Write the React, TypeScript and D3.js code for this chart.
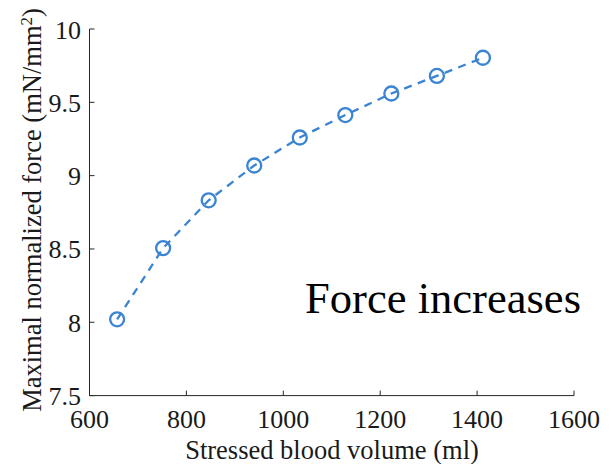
import React from "react";
import * as d3 from "d3";

const volume = [657, 752, 846, 940, 1034, 1128, 1223, 1317, 1412];
const force = [8.02, 8.506, 8.832, 9.069, 9.26, 9.413, 9.56, 9.68, 9.804];
const xTicks = [600, 800, 1000, 1200, 1400, 1600];
const yTicks = [7.5, 8, 8.5, 9, 9.5, 10];
const yTickLabels = ["7.5", "8", "8.5", "9", "9.5", "10"];

const W = 611, H = 464;
const serif = "'Liberation Serif', 'Times New Roman', serif";
const blue = "#3a84d2";
const axisColor = "#262626";

export default function App() {
  const x = d3.scaleLinear().domain([600, 1600]).range([89.5, 574]);
  const y = d3.scaleLinear().domain([7.5, 10]).range([395.6, 29]);
  const line = d3.line<number>().x((_, i) => x(volume[i])).y((d) => y(d));
  return (
    <svg width={W} height={H} style={{ position: "absolute", left: 0, top: 0 }}>
      <rect width={W} height={H} fill="#fff" />
      <path d={line(force) || ""} fill="none" stroke={blue} strokeWidth={2.3} strokeDasharray="8,6.5" />
      {force.map((f, i) => (
        <circle key={i} cx={x(volume[i])} cy={y(f)} r={7} fill="none" stroke={blue} strokeWidth={2.3} />
      ))}
      <line x1={x(600)} x2={x(1600)} y1={y(7.5)} y2={y(7.5)} stroke={axisColor} strokeWidth={1} />
      <line x1={x(600)} x2={x(600)} y1={y(7.5)} y2={y(10)} stroke={axisColor} strokeWidth={1} />
      {xTicks.map((t) => (
        <g key={t}>
          <line x1={x(t)} x2={x(t)} y1={y(7.5)} y2={y(7.5) - 5} stroke={axisColor} strokeWidth={1} />
          <text x={x(t)} y={428} textAnchor="middle" fontFamily={serif} fontSize={26} fill="#1a1a1a">{t}</text>
        </g>
      ))}
      {yTicks.map((t, i) => (
        <g key={t}>
          <line x1={x(600)} x2={x(600) + 5} y1={y(t)} y2={y(t)} stroke={axisColor} strokeWidth={1} />
          <text x={81} y={y(t) + 9.5} textAnchor="end" fontFamily={serif} fontSize={26} fill="#1a1a1a">{yTickLabels[i]}</text>
        </g>
      ))}
      <text x={332} y={459} textAnchor="middle" fontFamily={serif} fontSize={26.5} fill="#1a1a1a">Stressed blood volume (ml)</text>
      <text transform="translate(41,210) rotate(-90)" textAnchor="middle" fontFamily={serif} fontSize={26.5} fill="#1a1a1a">
        Maximal normalized force (mN/mm<tspan dy={-9} fontSize={17}>2</tspan><tspan dy={9}>)</tspan>
      </text>
      <text x={305} y={313} fontFamily={serif} fontSize={44} fill="#000" textLength={276} lengthAdjust="spacingAndGlyphs">Force increases</text>
    </svg>
  );
}
